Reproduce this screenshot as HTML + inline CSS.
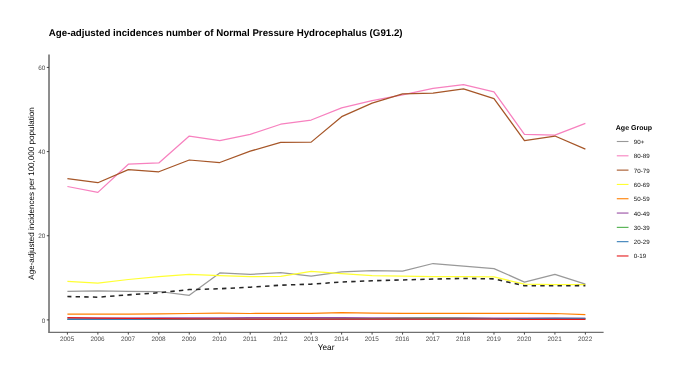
<!DOCTYPE html>
<html><head><meta charset="utf-8"><style>
html,body{margin:0;padding:0;background:#fff;}
body{width:685px;height:380px;overflow:hidden;position:relative;}
svg{position:absolute;left:0;top:0;will-change:transform;}
text{font-family:"Liberation Sans",sans-serif;text-rendering:geometricPrecision;}
.tk{font-size:6.4px;fill:#4d4d4d;}
.lg{font-size:6.2px;fill:#111;}
</style></head><body>
<svg width="685" height="380" viewBox="0 0 685 380">
<rect width="685" height="380" fill="#fff"/>
<text x="48.8" y="35.6" font-size="9.72" font-weight="bold" fill="#000">Age-adjusted incidences number of Normal Pressure Hydrocephalus (G91.2)</text>
<text transform="translate(34.1,193.5) rotate(-90)" text-anchor="middle" font-size="8.06" fill="#000">Age-adjusted incidences per 100,000 population</text>
<text x="326.1" y="349.5" text-anchor="middle" font-size="8.25" fill="#000">Year</text>
<text x="615.8" y="129.7" font-size="7" font-weight="bold" fill="#000">Age Group</text>
<g fill="none" stroke-width="1.25" stroke-linejoin="round">
<polyline points="67.40,291.29 97.87,290.86 128.34,291.29 158.81,291.50 189.28,295.28 219.75,272.90 250.22,274.45 280.69,272.60 311.16,276.14 341.63,271.93 372.10,270.67 402.57,271.09 433.04,263.51 463.51,266.04 493.98,268.56 524.45,282.11 554.92,274.45 585.39,284.13" stroke="#999999"/>
<polyline points="67.40,186.51 97.87,192.40 128.34,164.20 158.81,162.94 189.28,136.01 219.75,140.64 250.22,134.33 280.69,124.23 311.16,120.02 341.63,107.82 372.10,100.66 402.57,94.77 433.04,88.46 463.51,84.67 493.98,91.83 524.45,134.33 554.92,135.17 585.39,123.39" stroke="#F781BF"/>
<polyline points="67.40,178.51 97.87,182.72 128.34,169.67 158.81,171.78 189.28,160.00 219.75,162.52 250.22,151.16 280.69,142.32 311.16,142.11 341.63,116.65 372.10,103.19 402.57,93.93 433.04,93.09 463.51,88.88 493.98,98.56 524.45,140.64 554.92,136.01 585.39,149.06" stroke="#A65628"/>
<polyline points="67.40,281.31 97.87,283.08 128.34,279.50 158.81,276.56 189.28,274.45 219.75,275.72 250.22,276.56 280.69,276.35 311.16,271.30 341.63,273.74 372.10,275.51 402.57,276.22 433.04,276.56 463.51,276.56 493.98,276.98 524.45,284.13 554.92,284.55 585.39,284.55" stroke="#FFFF33"/>
<polyline points="67.40,314.01 97.87,314.01 128.34,314.09 158.81,313.80 189.28,313.50 219.75,313.17 250.22,313.50 280.69,313.38 311.16,313.29 341.63,312.66 372.10,313.17 402.57,313.25 433.04,313.29 463.51,313.29 493.98,313.25 524.45,313.38 554.92,313.50 585.39,314.51" stroke="#FF7F00"/>
<polyline points="67.40,318.13 97.87,318.13 128.34,318.01 158.81,317.80 189.28,317.80 219.75,317.80 250.22,317.71 280.69,317.71 311.16,317.71 341.63,317.71 372.10,317.80 402.57,317.80 433.04,317.88 463.51,317.92 493.98,318.01 524.45,318.13 554.92,318.22 585.39,318.30" stroke="#984EA3"/>
<polyline points="67.40,319.48 97.87,319.48 128.34,319.40 158.81,319.27 189.28,319.27 219.75,319.14 250.22,319.06 280.69,319.06 311.16,319.06 341.63,318.97 372.10,318.64 402.57,318.30 433.04,318.22 463.51,318.43 493.98,318.64 524.45,318.85 554.92,319.06 585.39,319.06" stroke="#4DAF4A"/>
<polyline points="67.40,319.35 97.87,319.35 128.34,319.27 158.81,319.14 189.28,319.06 219.75,319.06 250.22,319.06 280.69,319.06 311.16,319.06 341.63,319.06 372.10,319.06 402.57,319.06 433.04,319.06 463.51,318.85 493.98,318.72 524.45,318.64 554.92,318.47 585.39,318.30" stroke="#377EB8"/>
<polyline points="67.40,317.59 97.87,318.01 128.34,318.43 158.81,318.64 189.28,318.85 219.75,318.97 250.22,319.06 280.69,319.06 311.16,319.06 341.63,319.06 372.10,319.06 402.57,319.14 433.04,319.23 463.51,319.23 493.98,319.23 524.45,319.27 554.92,319.27 585.39,319.27" stroke="#E41A1C"/>
<polyline points="67.40,296.55 97.87,297.18 128.34,294.86 158.81,292.76 189.28,289.60 219.75,288.72 250.22,287.20 280.69,285.18 311.16,284.13 341.63,282.03 372.10,280.77 402.57,279.92 433.04,279.08 463.51,278.45 493.98,278.87 524.45,285.82 554.92,285.82 585.39,285.60" stroke="#262626" stroke-width="1.55" stroke-dasharray="4.4 4.23" stroke-dashoffset="0.4"/>
</g>
<line x1="49.00" y1="54.5" x2="49.00" y2="332.90" stroke="#1c1c1c" stroke-width="1.0"/>
<line x1="48.50" y1="332.40" x2="603.6" y2="332.40" stroke="#707070" stroke-width="1.1"/>
<line x1="46.80" y1="319.90" x2="49.00" y2="319.90" stroke="#333" stroke-width="0.9"/>
<text x="45.3" y="322.60" text-anchor="end" class="tk">0</text>
<line x1="46.80" y1="235.74" x2="49.00" y2="235.74" stroke="#333" stroke-width="0.9"/>
<text x="45.3" y="238.44" text-anchor="end" class="tk">20</text>
<line x1="46.80" y1="151.58" x2="49.00" y2="151.58" stroke="#333" stroke-width="0.9"/>
<text x="45.3" y="154.28" text-anchor="end" class="tk">40</text>
<line x1="46.80" y1="67.42" x2="49.00" y2="67.42" stroke="#333" stroke-width="0.9"/>
<text x="45.3" y="70.12" text-anchor="end" class="tk">60</text>
<line x1="67.40" y1="332.40" x2="67.40" y2="334.60" stroke="#333" stroke-width="0.9"/>
<text x="67.10" y="340.9" text-anchor="middle" class="tk">2005</text>
<line x1="97.87" y1="332.40" x2="97.87" y2="334.60" stroke="#333" stroke-width="0.9"/>
<text x="97.57" y="340.9" text-anchor="middle" class="tk">2006</text>
<line x1="128.34" y1="332.40" x2="128.34" y2="334.60" stroke="#333" stroke-width="0.9"/>
<text x="128.04" y="340.9" text-anchor="middle" class="tk">2007</text>
<line x1="158.81" y1="332.40" x2="158.81" y2="334.60" stroke="#333" stroke-width="0.9"/>
<text x="158.51" y="340.9" text-anchor="middle" class="tk">2008</text>
<line x1="189.28" y1="332.40" x2="189.28" y2="334.60" stroke="#333" stroke-width="0.9"/>
<text x="188.98" y="340.9" text-anchor="middle" class="tk">2009</text>
<line x1="219.75" y1="332.40" x2="219.75" y2="334.60" stroke="#333" stroke-width="0.9"/>
<text x="219.45" y="340.9" text-anchor="middle" class="tk">2010</text>
<line x1="250.22" y1="332.40" x2="250.22" y2="334.60" stroke="#333" stroke-width="0.9"/>
<text x="249.92" y="340.9" text-anchor="middle" class="tk">2011</text>
<line x1="280.69" y1="332.40" x2="280.69" y2="334.60" stroke="#333" stroke-width="0.9"/>
<text x="280.39" y="340.9" text-anchor="middle" class="tk">2012</text>
<line x1="311.16" y1="332.40" x2="311.16" y2="334.60" stroke="#333" stroke-width="0.9"/>
<text x="310.86" y="340.9" text-anchor="middle" class="tk">2013</text>
<line x1="341.63" y1="332.40" x2="341.63" y2="334.60" stroke="#333" stroke-width="0.9"/>
<text x="341.33" y="340.9" text-anchor="middle" class="tk">2014</text>
<line x1="372.10" y1="332.40" x2="372.10" y2="334.60" stroke="#333" stroke-width="0.9"/>
<text x="371.80" y="340.9" text-anchor="middle" class="tk">2015</text>
<line x1="402.57" y1="332.40" x2="402.57" y2="334.60" stroke="#333" stroke-width="0.9"/>
<text x="402.27" y="340.9" text-anchor="middle" class="tk">2016</text>
<line x1="433.04" y1="332.40" x2="433.04" y2="334.60" stroke="#333" stroke-width="0.9"/>
<text x="432.74" y="340.9" text-anchor="middle" class="tk">2017</text>
<line x1="463.51" y1="332.40" x2="463.51" y2="334.60" stroke="#333" stroke-width="0.9"/>
<text x="463.21" y="340.9" text-anchor="middle" class="tk">2018</text>
<line x1="493.98" y1="332.40" x2="493.98" y2="334.60" stroke="#333" stroke-width="0.9"/>
<text x="493.68" y="340.9" text-anchor="middle" class="tk">2019</text>
<line x1="524.45" y1="332.40" x2="524.45" y2="334.60" stroke="#333" stroke-width="0.9"/>
<text x="524.15" y="340.9" text-anchor="middle" class="tk">2020</text>
<line x1="554.92" y1="332.40" x2="554.92" y2="334.60" stroke="#333" stroke-width="0.9"/>
<text x="554.62" y="340.9" text-anchor="middle" class="tk">2021</text>
<line x1="585.39" y1="332.40" x2="585.39" y2="334.60" stroke="#333" stroke-width="0.9"/>
<text x="585.09" y="340.9" text-anchor="middle" class="tk">2022</text>
<g stroke-width="1.1">
<line x1="616.8" y1="141.50" x2="628.5" y2="141.50" stroke="#999999"/>
<text x="633.8" y="144.00" class="lg">90+</text>
<line x1="616.8" y1="155.81" x2="628.5" y2="155.81" stroke="#F781BF"/>
<text x="633.8" y="158.31" class="lg">80-89</text>
<line x1="616.8" y1="170.12" x2="628.5" y2="170.12" stroke="#A65628"/>
<text x="633.8" y="172.62" class="lg">70-79</text>
<line x1="616.8" y1="184.43" x2="628.5" y2="184.43" stroke="#FFFF33"/>
<text x="633.8" y="186.93" class="lg">60-69</text>
<line x1="616.8" y1="198.74" x2="628.5" y2="198.74" stroke="#FF7F00"/>
<text x="633.8" y="201.24" class="lg">50-59</text>
<line x1="616.8" y1="213.05" x2="628.5" y2="213.05" stroke="#984EA3"/>
<text x="633.8" y="215.55" class="lg">40-49</text>
<line x1="616.8" y1="227.36" x2="628.5" y2="227.36" stroke="#4DAF4A"/>
<text x="633.8" y="229.86" class="lg">30-39</text>
<line x1="616.8" y1="241.67" x2="628.5" y2="241.67" stroke="#377EB8"/>
<text x="633.8" y="244.17" class="lg">20-29</text>
<line x1="616.8" y1="255.98" x2="628.5" y2="255.98" stroke="#E41A1C"/>
<text x="633.8" y="258.48" class="lg">0-19</text>
</g>
</svg>
</body></html>
